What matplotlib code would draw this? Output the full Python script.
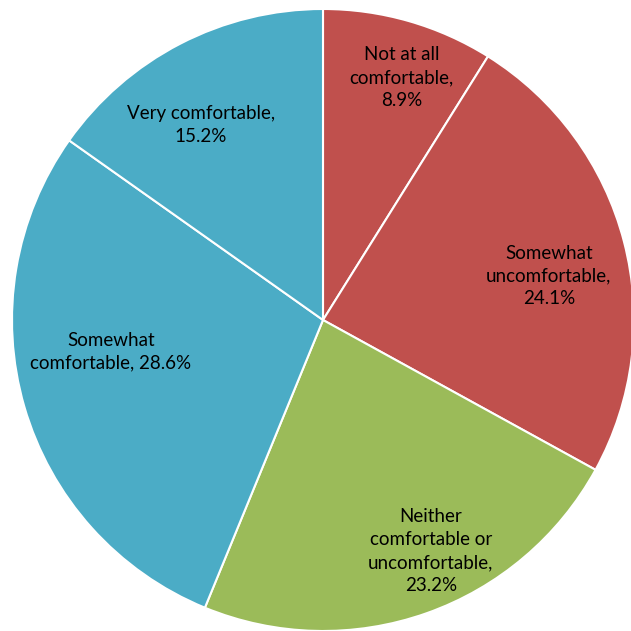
import matplotlib
matplotlib.use("Agg")
import matplotlib.pyplot as plt
import numpy as np

labels = ["Not at all\ncomfortable,\n8.9%",
          "Somewhat\nuncomfortable,\n24.1%",
          "Neither\ncomfortable or\nuncomfortable,\n23.2%",
          "Somewhat\ncomfortable, 28.6%",
          "Very comfortable,\n15.2%"]
values = [8.9, 24.1, 23.2, 28.6, 15.2]
colors = ["#C0504D", "#C0504D", "#9BBB59", "#4BACC6", "#4BACC6"]

# label placement (radius fraction, angle in degrees)
label_pos = [(0.82, 72), (0.74, 11), (0.82, -65), (0.69, 188.5), (0.74, 122)]

fig = plt.figure(figsize=(6.31, 6.31), dpi=100)
ax = fig.add_axes([12/631, 0, 622/631, 622/631])

ax.pie(values, colors=colors, startangle=90, counterclock=False,
       wedgeprops=dict(edgecolor="white", linewidth=1.5), radius=1)

for lab, (r, a) in zip(labels, label_pos):
    t = np.deg2rad(a)
    ax.text(r*np.cos(t), r*np.sin(t), lab, ha="center", va="center",
            fontsize=13.5, family="Lato", linespacing=1.42, color="black")

ax.set_xlim(-1, 1)
ax.set_ylim(-1, 1)
ax.set_aspect("equal")
ax.axis("off")

plt.savefig("out.png", dpi=100)
